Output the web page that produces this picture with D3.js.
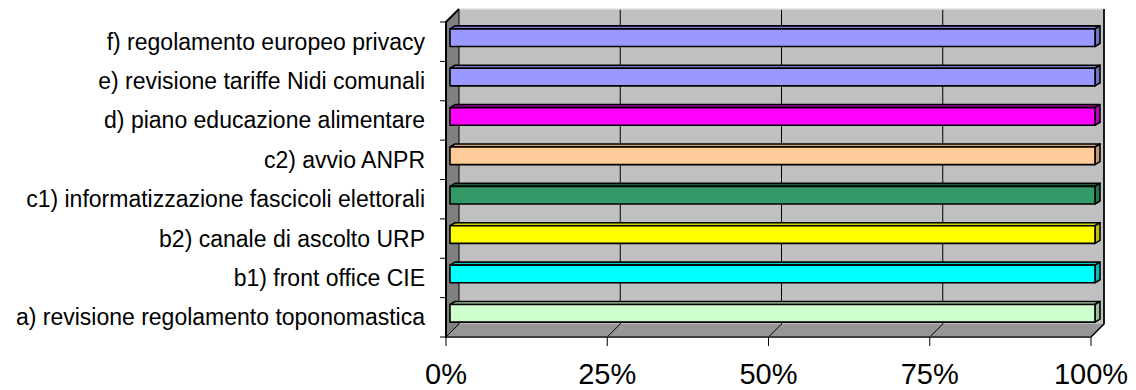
<!DOCTYPE html>
<html>
<head>
<meta charset="utf-8">
<script src="https://cdnjs.cloudflare.com/ajax/libs/d3/7.8.5/d3.min.js"></script>
<style>
  body { margin: 0; background: #fff; }
  text { font-family: "Liberation Sans", Arial, sans-serif; fill: #000; }
</style>
</head>
<body>
<div id="chart"></div>
<script>
// categories, top to bottom as drawn
var categories = [
  "f) regolamento europeo privacy",
  "e) revisione tariffe Nidi comunali",
  "d) piano educazione alimentare",
  "c2) avvio ANPR",
  "c1) informatizzazione fascicoli elettorali",
  "b2) canale di ascolto URP",
  "b1) front office CIE",
  "a) revisione regolamento toponomastica"
];
var values = [1, 1, 1, 1, 1, 1, 1, 1];
var barColors = ["#9999FF", "#9999FF", "#FF00FF", "#FFCC99", "#339966", "#FFFF00", "#00FFFF", "#CCFFCC"];
var tickValues = [0, 0.25, 0.5, 0.75, 1];
var tickLabels = ["0%", "25%", "50%", "75%", "100%"];

var svgWidth = 1136;
var svgHeight = 390;

// front plane of the 3d box
var plotLeft = 446, plotRight = 1091, plotTop = 22, plotBottom = 337;
// depth of the walls
var dx = 13, dy = -13;
// bar front / back offsets in depth
var bf = { x: 4, y: -4 }, bb = { x: 9, y: -7 };

var svg = d3.select("#chart")
  .append("svg")
  .attr("width", svgWidth)
  .attr("height", svgHeight);

var xScale = d3.scaleLinear().domain([0, 1]).range([plotLeft, plotRight]);
var yScale = d3.scaleBand().domain(categories).range([plotTop, plotBottom]).paddingInner(0.55).paddingOuter(0.275);
var yOuter = d3.scaleBand().domain(categories).range([plotTop, plotBottom]);

function poly(pts) {
  return "M" + pts.map(p => p[0] + "," + p[1]).join("L") + "Z";
}

// back wall
svg.append("path")
  .attr("d", poly([[plotLeft + dx, plotTop + dy], [plotRight + dx, plotTop + dy], [plotRight + dx, plotBottom + dy], [plotLeft + dx, plotBottom + dy]]))
  .attr("fill", "#C0C0C0");

// left wall
svg.append("path")
  .attr("d", poly([[plotLeft, plotTop], [plotLeft + dx, plotTop + dy], [plotLeft + dx, plotBottom + dy], [plotLeft, plotBottom]]))
  .attr("fill", "#808080");

// floor
svg.append("path")
  .attr("d", poly([[plotLeft, plotBottom], [plotLeft + dx, plotBottom + dy], [plotRight + dx, plotBottom + dy], [plotRight, plotBottom]]))
  .attr("fill", "#969696");

// gridlines on back wall and floor
svg.append("g").selectAll("path")
  .data(tickValues)
  .enter()
  .append("path")
  .attr("d", d => "M" + (xScale(d) + dx) + "," + (plotTop + dy) + "L" + (xScale(d) + dx) + "," + (plotBottom + dy) +
    "L" + xScale(d) + "," + plotBottom)
  .attr("fill", "none")
  .attr("stroke", "#000")
  .attr("stroke-width", 1);

// edges of the box
svg.append("path")
  .attr("d", "M" + (plotLeft + dx) + "," + (plotTop + dy) + "L" + (plotRight + dx) + "," + (plotTop + dy))
  .attr("stroke", "#E0E0E0").attr("stroke-width", 1.5).attr("fill", "none");
svg.append("path")
  .attr("d", "M" + (plotRight + dx) + "," + (plotTop + dy) + "L" + (plotRight + dx) + "," + (plotBottom + dy) + "L" + plotRight + "," + plotBottom)
  .attr("stroke", "#000").attr("stroke-width", 1.5).attr("fill", "none");
svg.append("path")
  .attr("d", "M" + plotLeft + "," + plotBottom + "L" + plotRight + "," + plotBottom)
  .attr("stroke", "#404040").attr("stroke-width", 2).attr("fill", "none");
svg.append("path")
  .attr("d", "M" + (plotLeft + dx) + "," + (plotTop + dy) + "L" + plotLeft + "," + plotTop + "L" + plotLeft + "," + (plotBottom + 1))
  .attr("stroke", "#000").attr("stroke-width", 2).attr("fill", "none");

// bars
var bars = svg.append("g").selectAll("g")
  .data(categories)
  .enter()
  .append("g");

bars.each(function(d, i) {
  var g = d3.select(this);
  var x0 = xScale(0), x1 = xScale(values[i]);
  var y0 = yScale(d), y1 = yScale(d) + yScale.bandwidth();
  var c = d3.color(barColors[i]);
  // top face
  g.append("path")
    .attr("d", poly([[x0 + bf.x, y0 + bf.y], [x0 + bb.x, y0 + bb.y], [x1 + bb.x, y0 + bb.y], [x1 + bf.x, y0 + bf.y]]))
    .attr("fill", c.darker(0.6))
    .attr("stroke", "#000").attr("stroke-width", 1.6).attr("stroke-linejoin", "round");
  // right face
  g.append("path")
    .attr("d", poly([[x1 + bf.x, y0 + bf.y], [x1 + bb.x, y0 + bb.y], [x1 + bb.x, y1 + bb.y], [x1 + bf.x, y1 + bf.y]]))
    .attr("fill", c.darker(0.8))
    .attr("stroke", "#000").attr("stroke-width", 1.6).attr("stroke-linejoin", "round");
  // front face
  g.append("path")
    .attr("d", poly([[x0 + bf.x, y0 + bf.y], [x1 + bf.x, y0 + bf.y], [x1 + bf.x, y1 + bf.y], [x0 + bf.x, y1 + bf.y]]))
    .attr("fill", c)
    .attr("stroke", "#000").attr("stroke-width", 1.6).attr("stroke-linejoin", "round");
});

// category ticks on the front left edge
svg.append("g").selectAll("line")
  .data(categories.concat([null]))
  .enter()
  .append("line")
  .attr("x1", plotLeft - 6).attr("x2", plotLeft)
  .attr("y1", (d, i) => plotTop + i * yOuter.step())
  .attr("y2", (d, i) => plotTop + i * yOuter.step())
  .attr("stroke", "#000").attr("stroke-width", 1);

// category labels
svg.append("g").selectAll("text")
  .data(categories)
  .enter()
  .append("text")
  .attr("x", 425)
  .attr("y", d => yOuter(d) + yOuter.bandwidth() / 2)
  .attr("dy", "0.35em")
  .attr("text-anchor", "end")
  .attr("font-size", "23px")
  .text(d => d);

// value axis ticks and labels
svg.append("g").selectAll("line")
  .data(tickValues)
  .enter()
  .append("line")
  .attr("x1", d => xScale(d)).attr("x2", d => xScale(d))
  .attr("y1", plotBottom).attr("y2", plotBottom + 9)
  .attr("stroke", "#000").attr("stroke-width", 1);

svg.append("g").selectAll("text")
  .data(tickValues)
  .enter()
  .append("text")
  .attr("x", d => xScale(d))
  .attr("y", 384)
  .attr("text-anchor", "middle")
  .attr("font-size", "29px")
  .text((d, i) => tickLabels[i]);
</script>
</body>
</html>
